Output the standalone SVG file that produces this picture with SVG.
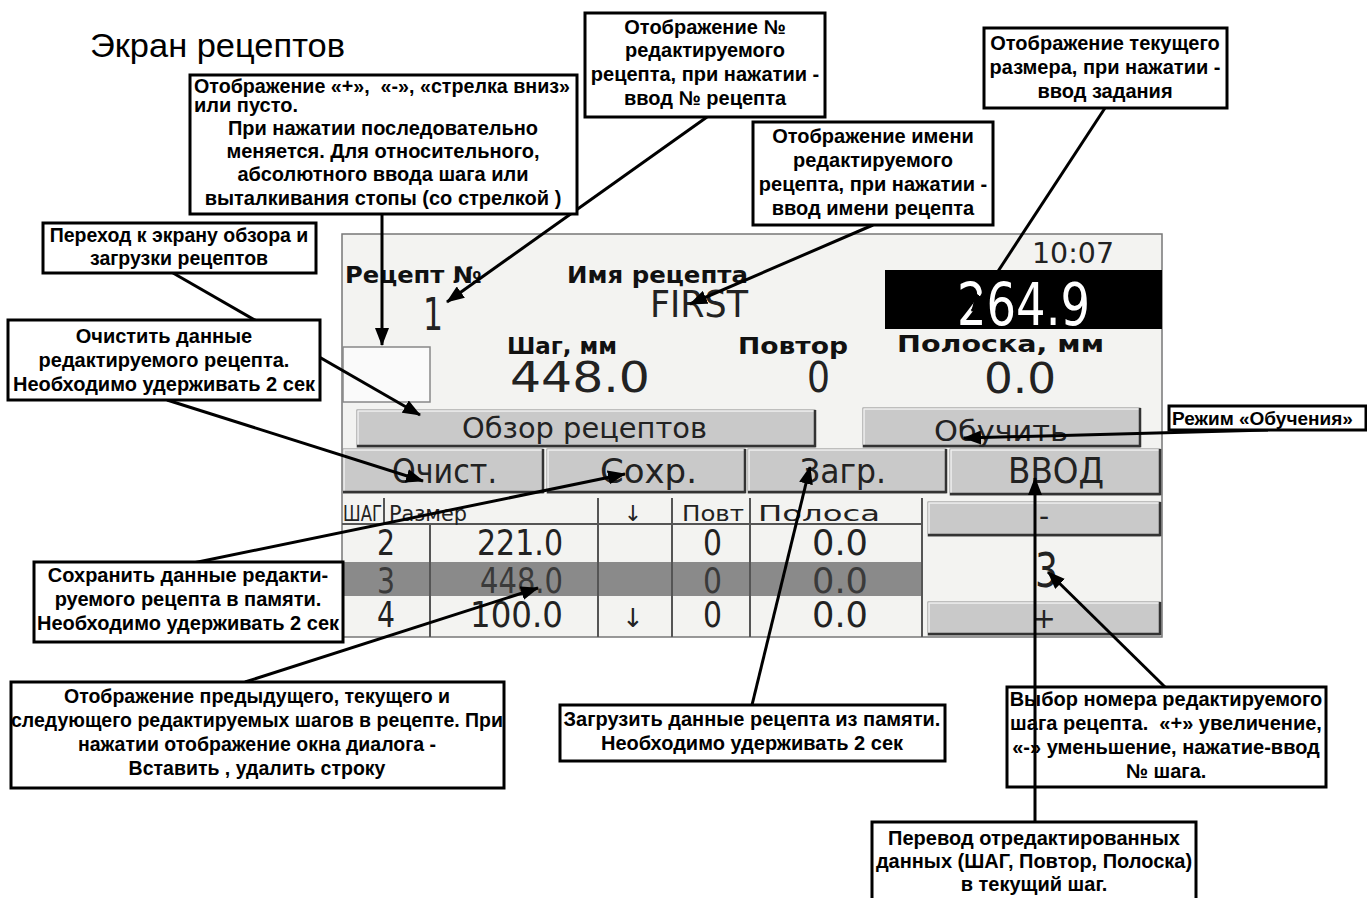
<svg xmlns="http://www.w3.org/2000/svg" width="1367" height="898" viewBox="0 0 1367 898">
<style>
.box{fill:#fff;stroke:#000;stroke-width:3}
.c{font-family:"Liberation Sans",Arial,sans-serif;font-weight:bold;font-size:20px;fill:#000;text-anchor:middle}
.l{font-family:"Liberation Sans",Arial,sans-serif;font-weight:bold;font-size:20px;fill:#000}
.con{stroke:#000;stroke-width:3;fill:none}
.s{font-family:"DejaVu Sans",sans-serif;fill:#222}
.sb{font-family:"DejaVu Sans",sans-serif;font-weight:bold;fill:#111;font-size:23px}
.btn{fill:#c9c9c9;stroke:#8a8a8a;stroke-width:1}
.sh{stroke:#333;stroke-width:2.5;fill:none}
.hl{stroke:#f0f0f0;stroke-width:1.5;fill:none}
.tl{stroke:#555;stroke-width:2}
.dk{fill:#3a3a3a}
.wt{fill:#fff}
</style>
<defs>
<marker id="ah" markerUnits="userSpaceOnUse" markerWidth="18" markerHeight="14" refX="17" refY="7" orient="auto">
<path d="M0,0 L18,7 L0,14 z" fill="#000"/>
</marker>
</defs>
<rect width="1367" height="898" fill="#fff"/>
<text x="90" y="57" font-family="'Liberation Sans',Arial,sans-serif" font-size="33" textLength="255" lengthAdjust="spacingAndGlyphs">Экран рецептов</text>

<g id="screen">
<rect x="342" y="234" width="820" height="403" fill="#f3f3f1" stroke="#777" stroke-width="1.5"/>
<text class="sb" x="345" y="283" textLength="137" lengthAdjust="spacingAndGlyphs">Рецепт №</text>
<text class="sb" x="567" y="283" textLength="181" lengthAdjust="spacingAndGlyphs">Имя рецепта</text>
<text class="s" x="423" y="330" font-size="45" textLength="20" lengthAdjust="spacingAndGlyphs">1</text>
<text class="s" x="650" y="317" font-size="37" textLength="98" lengthAdjust="spacingAndGlyphs">FIRST</text>
<text class="s" x="1032" y="263" font-size="28" textLength="82" lengthAdjust="spacingAndGlyphs">10:07</text>
<rect x="885" y="270" width="277" height="59" fill="#000"/>
<text class="s wt" x="957" y="325" font-size="58" textLength="133" lengthAdjust="spacingAndGlyphs">264.9</text>
<rect x="343" y="347" width="87" height="55" fill="#fafafa" stroke="#888" stroke-width="1.5"/>
<text class="sb" x="507" y="354" textLength="110" lengthAdjust="spacingAndGlyphs">Шаг, мм</text>
<text class="sb" x="738" y="354" textLength="110" lengthAdjust="spacingAndGlyphs">Повтор</text>
<text class="sb" x="897" y="352" textLength="207" lengthAdjust="spacingAndGlyphs">Полоска, мм</text>
<text class="s" x="510" y="392" font-size="42" textLength="140" lengthAdjust="spacingAndGlyphs">448.0</text>
<text class="s" x="807" y="392" font-size="42" textLength="23" lengthAdjust="spacingAndGlyphs">0</text>
<text class="s" x="984" y="393" font-size="42" textLength="72" lengthAdjust="spacingAndGlyphs">0.0</text>

<rect class="btn" x="357" y="410" width="458" height="37"/>
<path class="hl" d="M358,446 V411 H814"/><path class="sh" d="M357,446 H815 V410"/>
<text class="s" x="462" y="438" font-size="28" textLength="245" lengthAdjust="spacingAndGlyphs">Обзор рецептов</text>
<rect class="btn" x="863" y="408" width="277" height="39"/>
<path class="hl" d="M864,446 V409 H1139"/><path class="sh" d="M863,446 H1140 V408"/>
<text class="s" x="934" y="441" font-size="28" textLength="134" lengthAdjust="spacingAndGlyphs">Обучить</text>

<rect class="btn" x="343" y="449" width="200" height="44"/>
<path class="hl" d="M344,492 V450 H542"/><path class="sh" d="M343,492 H543 V449"/>
<text class="s" x="392" y="483" font-size="34" textLength="105" lengthAdjust="spacingAndGlyphs">Очист.</text>
<rect class="btn" x="547" y="449" width="198" height="44"/>
<path class="hl" d="M548,492 V450 H744"/><path class="sh" d="M547,492 H745 V449"/>
<text class="s" x="600" y="483" font-size="34" textLength="97" lengthAdjust="spacingAndGlyphs">Сохр.</text>
<rect class="btn" x="748" y="449" width="198" height="44"/>
<path class="hl" d="M749,492 V450 H945"/><path class="sh" d="M748,492 H946 V449"/>
<text class="s" x="800" y="483" font-size="34" textLength="86" lengthAdjust="spacingAndGlyphs">Загр.</text>
<rect class="btn" x="950" y="449" width="210" height="46"/>
<path class="hl" d="M951,494 V450 H1159"/><path class="sh" d="M950,494 H1160 V449"/>
<text class="s" x="1008" y="483" font-size="36" textLength="96" lengthAdjust="spacingAndGlyphs">ВВОД</text>

<rect x="342" y="562" width="580" height="34" fill="#8a8a8a"/>
<line class="tl" x1="342" y1="524" x2="922" y2="524"/>
<line class="tl" x1="384" y1="498" x2="384" y2="524"/>
<line class="tl" x1="430" y1="524" x2="430" y2="637"/>
<line class="tl" x1="598" y1="498" x2="598" y2="637"/>
<line class="tl" x1="672" y1="498" x2="672" y2="637"/>
<line class="tl" x1="750" y1="498" x2="750" y2="637"/>
<line class="tl" x1="922" y1="498" x2="922" y2="637"/>
<text class="s" x="343" y="521" font-size="22" textLength="39" lengthAdjust="spacingAndGlyphs">ШАГ</text>
<text class="s" x="389" y="521" font-size="22" textLength="78" lengthAdjust="spacingAndGlyphs">Размер</text>
<text class="s" x="633" y="521" font-size="22" text-anchor="middle">↓</text>
<text class="s" x="682" y="521" font-size="22" textLength="62" lengthAdjust="spacingAndGlyphs">Повт</text>
<text class="s" x="758" y="521" font-size="22" textLength="122" lengthAdjust="spacingAndGlyphs">Полоса</text>

<text class="s" x="377" y="555" font-size="36" textLength="18" lengthAdjust="spacingAndGlyphs">2</text>
<text class="s" x="477" y="555" font-size="36" textLength="86" lengthAdjust="spacingAndGlyphs">221.0</text>
<text class="s" x="703" y="555" font-size="36" textLength="19" lengthAdjust="spacingAndGlyphs">0</text>
<text class="s" x="812" y="555" font-size="36" textLength="56" lengthAdjust="spacingAndGlyphs">0.0</text>
<text class="s dk" x="377" y="593" font-size="36" textLength="18" lengthAdjust="spacingAndGlyphs">3</text>
<text class="s dk" x="480" y="593" font-size="36" textLength="83" lengthAdjust="spacingAndGlyphs">448.0</text>
<text class="s dk" x="703" y="593" font-size="36" textLength="19" lengthAdjust="spacingAndGlyphs">0</text>
<text class="s dk" x="812" y="593" font-size="36" textLength="56" lengthAdjust="spacingAndGlyphs">0.0</text>
<text class="s" x="377" y="627" font-size="36" textLength="18" lengthAdjust="spacingAndGlyphs">4</text>
<text class="s" x="470" y="627" font-size="36" textLength="93" lengthAdjust="spacingAndGlyphs">100.0</text>
<text class="s" x="633" y="627" font-size="26" text-anchor="middle">↓</text>
<text class="s" x="703" y="627" font-size="36" textLength="19" lengthAdjust="spacingAndGlyphs">0</text>
<text class="s" x="812" y="627" font-size="36" textLength="56" lengthAdjust="spacingAndGlyphs">0.0</text>

<rect class="btn" x="928" y="502" width="232" height="34"/>
<path class="hl" d="M929,535 V503 H1159"/><path class="sh" d="M928,535 H1160 V502"/>
<text class="s" x="1044" y="526" font-size="28" text-anchor="middle">-</text>
<text class="s" x="1035" y="587" font-size="48" textLength="23" lengthAdjust="spacingAndGlyphs">3</text>
<rect class="btn" x="928" y="602" width="232" height="33"/>
<path class="hl" d="M929,634 V603 H1159"/><path class="sh" d="M928,634 H1160 V602"/>
<text class="s" x="1044" y="628" font-size="28" text-anchor="middle">+</text>
</g>

<g id="connectors">
<path class="con" d="M382,213 V345" marker-end="url(#ah)"/>
<path class="con" d="M707,117 L447,302" marker-end="url(#ah)"/>
<path class="con" d="M873,225 L690,304" marker-end="url(#ah)"/>
<path class="con" d="M1105,108 L972,311" marker-end="url(#ah)"/>
<path class="con" d="M173,273 L420,415" marker-end="url(#ah)"/>
<path class="con" d="M167,400 L423,481" marker-end="url(#ah)"/>
<path class="con" d="M193,563 L625,474" marker-end="url(#ah)"/>
<path class="con" d="M245,682 L538,588" marker-end="url(#ah)"/>
<path class="con" d="M752,705 L810,467" marker-end="url(#ah)"/>
<path class="con" d="M1035,822 V478" marker-end="url(#ah)"/>
<path class="con" d="M1165,687 L1048,572" marker-end="url(#ah)"/>
<path class="con" d="M1268,430 L964,438" marker-end="url(#ah)"/>
</g>

<g id="box-sign">
<rect class="box" x="190" y="75" width="387" height="139"/>
<text class="l" x="194" y="93" xml:space="preserve" textLength="376" lengthAdjust="spacingAndGlyphs">Отображение «+»,  «-», «стрелка вниз»</text>
<text class="l" x="194" y="112">или пусто.</text>
<text class="c" x="383" y="135">При нажатии последовательно</text>
<text class="c" x="383" y="158">меняется. Для относительного,</text>
<text class="c" x="383" y="181">абсолютного ввода шага или</text>
<text class="c" x="383" y="205">выталкивания стопы (со стрелкой )</text>
</g>
<g id="box-num">
<rect class="box" x="585" y="13" width="240" height="104"/>
<text class="c" x="705" y="34">Отображение №</text>
<text class="c" x="705" y="57">редактируемого</text>
<text class="c" x="705" y="81">рецепта, при нажатии -</text>
<text class="c" x="705" y="105">ввод № рецепта</text>
</g>
<g id="box-name">
<rect class="box" x="753" y="122" width="240" height="103"/>
<text class="c" x="873" y="143">Отображение имени</text>
<text class="c" x="873" y="167">редактируемого</text>
<text class="c" x="873" y="191">рецепта, при нажатии -</text>
<text class="c" x="873" y="215">ввод имени рецепта</text>
</g>
<g id="box-size">
<rect class="box" x="984" y="28" width="243" height="80"/>
<text class="c" x="1105" y="50">Отображение текущего</text>
<text class="c" x="1105" y="74">размера, при нажатии -</text>
<text class="c" x="1105" y="98">ввод задания</text>
</g>
<g id="box-browse">
<rect class="box" x="43" y="223" width="273" height="50"/>
<text class="c" x="179" y="242" style="font-size:19.5px">Переход к экрану обзора и</text>
<text class="c" x="179" y="265" style="font-size:19.5px">загрузки рецептов</text>
</g>
<g id="box-clear">
<rect class="box" x="8" y="320" width="312" height="80"/>
<text class="c" x="164" y="343">Очистить данные</text>
<text class="c" x="164" y="367">редактируемого рецепта.</text>
<text class="c" x="164" y="391">Необходимо удерживать 2 сек</text>
</g>
<g id="box-save">
<rect class="box" x="34" y="562" width="309" height="80"/>
<text class="c" x="188" y="582">Сохранить данные редакти-</text>
<text class="c" x="188" y="606">руемого рецепта в памяти.</text>
<text class="c" x="188" y="630">Необходимо удерживать 2 сек</text>
</g>
<g id="box-steps">
<rect class="box" x="11" y="682" width="493" height="106"/>
<text class="c" x="257" y="703" style="font-size:19.5px">Отображение предыдущего, текущего и</text>
<text class="c" x="257" y="727" style="font-size:19.5px">следующего редактируемых шагов в рецепте. При</text>
<text class="c" x="257" y="751" style="font-size:19.5px">нажатии отображение окна диалога -</text>
<text class="c" x="257" y="775" style="font-size:19.5px">Вставить , удалить строку</text>
</g>
<g id="box-load">
<rect class="box" x="560" y="705" width="385" height="56"/>
<text class="c" x="752" y="726">Загрузить данные рецепта из памяти.</text>
<text class="c" x="752" y="750">Необходимо удерживать 2 сек</text>
</g>
<g id="box-select">
<rect class="box" x="1007" y="687" width="319" height="100" style="fill:none"/>
<text class="c" x="1166" y="706">Выбор номера редактируемого</text>
<text class="c" x="1166" y="730" xml:space="preserve">шага рецепта.  «+» увеличение,</text>
<text class="c" x="1166" y="754">«-» уменьшение, нажатие-ввод</text>
<text class="c" x="1166" y="778">№ шага.</text>
</g>
<g id="box-enter">
<rect class="box" x="872" y="822" width="324" height="90"/>
<text class="c" x="1034" y="845">Перевод отредактированных</text>
<text class="c" x="1034" y="868">данных (ШАГ, Повтор, Полоска)</text>
<text class="c" x="1034" y="891">в текущий шаг.</text>
</g>
<g id="box-teach">
<rect class="box" x="1169" y="406" width="197" height="24"/>
<text class="l" x="1172" y="425" style="font-size:19px">Режим «Обучения»</text>
</g>
</svg>
